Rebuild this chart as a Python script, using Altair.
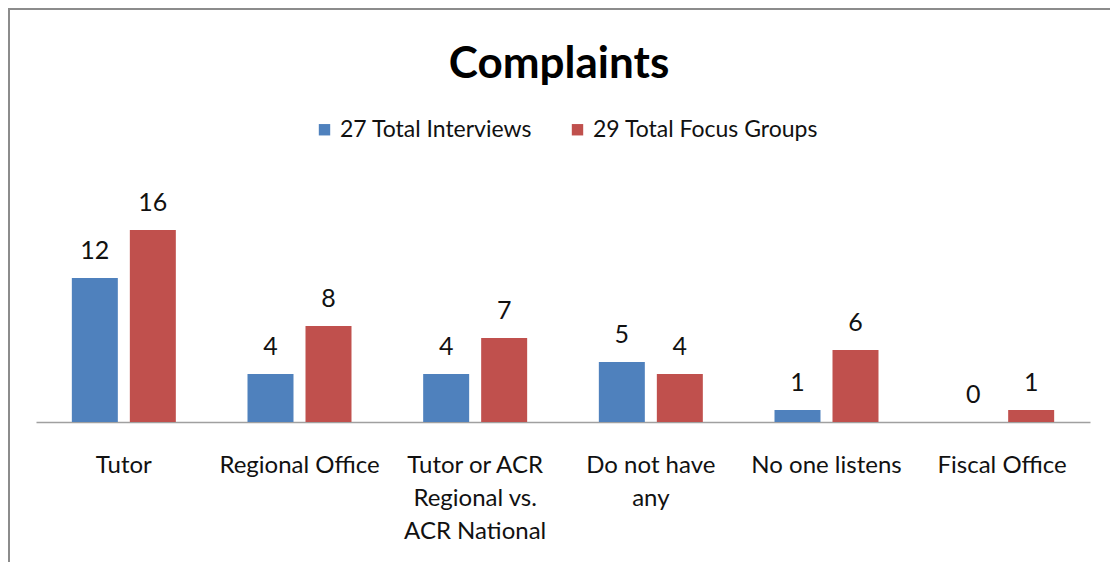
import altair as alt
import pandas as pd

# ---- data ----
categories = [
    "Tutor",
    "Regional Office",
    "Tutor or ACR|Regional vs.|ACR National",
    "Do not have|any",
    "No one listens",
    "Fiscal Office",
]
series = ["27 Total Interviews", "29 Total Focus Groups"]
interviews = [12, 4, 4, 5, 1, 0]
focus_groups = [16, 8, 7, 4, 6, 1]
colors = ["#4F81BD", "#C0504D"]

rows = []
for c, a, b in zip(categories, interviews, focus_groups):
    rows.append({"category": c, "series": series[0], "value": a})
    rows.append({"category": c, "series": series[1], "value": b})
df = pd.DataFrame(rows)

FONT = "Lato"
PLOT_W, PLOT_H = 1054, 216
PAD = {"left": 28, "top": 198, "right": 20, "bottom": 140}

x = alt.X(
    "category:N",
    sort=categories,
    title=None,
    scale=alt.Scale(paddingInner=0.408, paddingOuter=0.204),
    axis=alt.Axis(
        labelAngle=0,
        labelExpr="split(datum.label, '|')",
        ticks=False,
        domainColor="#A0A0A0",
        domainWidth=1.5,
        labelFontSize=24,
        labelFont=FONT,
        labelColor="#111111",
        labelPadding=31,
        labelLineHeight=33,
        labelBaseline="top",
        labelOverlap=False,
        labelLimit=400,
    ),
)
xoff = alt.XOffset("series:N", sort=series, scale=alt.Scale(paddingInner=0.207, paddingOuter=0))
y = alt.Y("value:Q", scale=alt.Scale(domain=[0, 18]), axis=None)

base = alt.Chart(df)

bars = base.mark_bar().encode(
    x=x,
    xOffset=xoff,
    y=y,
    color=alt.Color(
        "series:N",
        sort=series,
        scale=alt.Scale(domain=series, range=colors),
        legend=alt.Legend(
            orient="none",
            legendX=277,
            legendY=-88,
            direction="horizontal",
            title=None,
            symbolType="square",
            symbolSize=130,
            symbolStrokeWidth=0,
            labelFontSize=23,
            labelFont=FONT,
            labelColor="#111111",
            labelLimit=400,
            columnPadding=33,
            labelOffset=4,
        ),
    ),
)

labels = base.mark_text(dy=-19, baseline="alphabetic", fontSize=25, font=FONT, color="#111111").encode(
    x=x, xOffset=xoff, y=y, text="value:Q"
)

frame_src = alt.Chart(pd.DataFrame({"f": [0]}))
top_border = frame_src.mark_rule(color="#8C8C8C", strokeWidth=2).encode(
    x=alt.value(-PAD["left"]), x2=alt.value(PLOT_W + PAD["right"]), y=alt.value(-PAD["top"] + 1)
)
left_border = frame_src.mark_rule(color="#8C8C8C", strokeWidth=2).encode(
    x=alt.value(-PAD["left"] + 1), y=alt.value(-PAD["top"]), y2=alt.value(PLOT_H + PAD["bottom"])
)

chart = (
    alt.layer(bars, labels, top_border, left_border)
    .properties(
        width=PLOT_W,
        height=PLOT_H,
        autosize=alt.AutoSizeParams(type="none"),
        padding=PAD,
        title=alt.TitleParams(
            "Complaints",
            fontSize=44,
            font=FONT,
            fontWeight="bold",
            color="#000000",
            anchor="middle",
            baseline="alphabetic",
            offset=-115,
            dx=-4,
        ),
    )
    .configure_view(stroke=None)
)

chart.save("out.html", embed_options={"renderer": "svg", "actions": False})
